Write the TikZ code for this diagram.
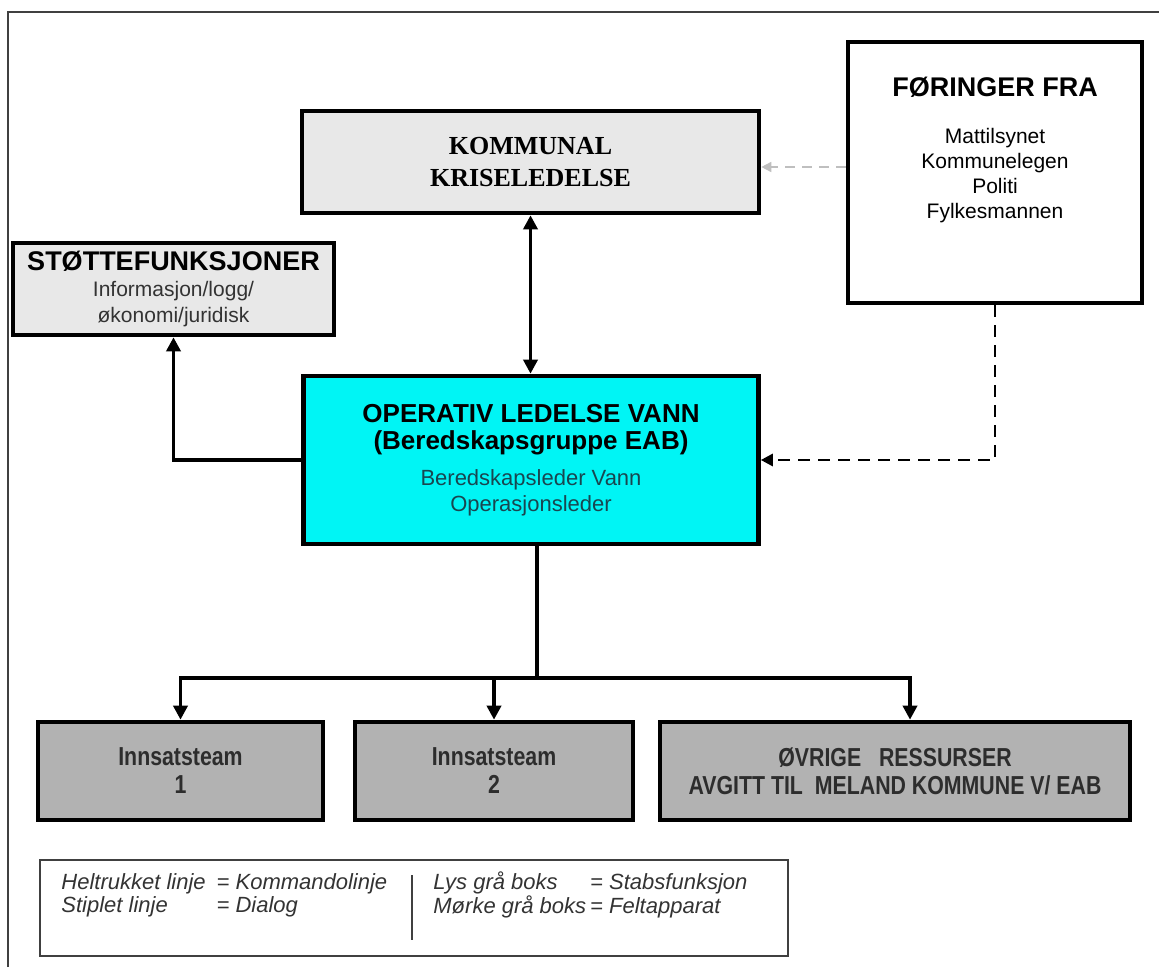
\documentclass[tikz,border=0pt]{standalone}
\usepackage{fontspec}
\setmainfont{Liberation Sans}
\newfontfamily\timesfont{Liberation Serif}
\newfontfamily\narrowfont[FakeStretch=0.82]{Liberation Sans}
\usetikzlibrary{positioning}
\usetikzlibrary{positioning, arrows.meta}
\definecolor{lysgraa}{RGB}{232,232,232}
\definecolor{morkgraa}{RGB}{178,178,178}
\definecolor{vanncyan}{RGB}{0,245,245}
\definecolor{tekstgraa}{RGB}{45,45,45}
\definecolor{tekstteal}{RGB}{25,70,80}

\begin{document}
\begin{tikzpicture}[x=0.5pt, y=-0.5pt]
        % Define styles for boxes and lines
        \tikzset{
            boks/.style={draw, line width=2.3pt, align=center, inner sep=0pt},
            lysboks/.style={boks, fill=lysgraa},
            morkboks/.style={boks, fill=morkgraa, minimum height=49pt, text=tekstgraa,
                font=\narrowfont\fontsize{13}{14}\selectfont\bfseries},
            kommando/.style={line width=1.8pt, -{Triangle[length=7pt, width=7pt]}},
            kommandobegge/.style={line width=1.8pt, {Triangle[length=7pt, width=7pt]}-{Triangle[length=7pt, width=7pt]}},
            dialog/.style={line width=1.4pt, dash pattern=on 6pt off 4pt, -{Triangle[length=6pt, width=6pt]}},
            dialoglys/.style={line width=0.8pt, gray!50, dash pattern=on 5pt off 3.5pt, -{Triangle[length=5pt, width=5pt]}}
        }
        \useasboundingbox (0,0) rectangle (1159,967);
        % Frame
        \draw[line width=0.8pt, black!75] (8,967) -- (8,12) -- (1159,12);
        % Draw boxes
        \node[lysboks, minimum width=228.5pt, minimum height=51pt,
            font=\timesfont\fontsize{13}{16}\selectfont\bfseries] (krise) at (530.5,162) {KOMMUNAL\\KRISELEDELSE};

        \node[boks, fill=white, minimum width=147pt, minimum height=130.5pt] (foringer) at (995,172.5) {};
        \node[below=18.5pt of foringer.north, align=center, inner sep=0pt,
            font=\fontsize{10.5}{12.5}\selectfont] (foringertekst) {
            {\fontsize{13.5}{16}\selectfont\bfseries FØRINGER FRA}\\[11pt]
            Mattilsynet\\
            Kommunelegen\\
            Politi\\
            Fylkesmannen
        };

        \node[lysboks, minimum width=160.5pt, minimum height=46pt,
            font=\fontsize{10.5}{13}\selectfont] (stotte) at (173.5,289) {
            {\fontsize{13.5}{16}\selectfont\bfseries STØTTEFUNKSJONER}\\
            {\color{black!80}Informasjon/logg/}\\
            {\color{black!80}økonomi/juridisk}
        };

        \node[boks, fill=vanncyan, minimum width=227.5pt, minimum height=84pt,
            font=\fontsize{11}{13}\selectfont] (operativ) at (531,460) {
            {\fontsize{13}{16}\selectfont\bfseries OPERATIV LEDELSE VANN}\\[0.5pt]
            {\fontsize{13}{16}\selectfont\bfseries (Beredskapsgruppe EAB)}\\[5pt]
            {\color{tekstteal}Beredskapsleder Vann}\\
            {\color{tekstteal}Operasjonsleder}
        };

        \node[morkboks, minimum width=142.5pt] (team1) at (180.5,771) {Innsatsteam\\1};
        \node[morkboks, minimum width=139pt] (team2) at (494,771) {Innsatsteam\\2};
        \node[morkboks, minimum width=235pt] (ovrige) at (895,771) {ØVRIGE\ \ \ RESSURSER\\AVGITT TIL\ \ MELAND KOMMUNE V/ EAB};

        % Legend
        \node[draw, line width=0.8pt, black!75, minimum width=374pt, minimum height=48pt] (legend) at (414,908) {};
        \node[anchor=west, inner sep=0pt, text=black!80,
            font=\itshape\fontsize{11}{11.5}\selectfont] (legendvenstre) at (61,896) {
            \begin{tabular}{@{}l@{\hspace{5.5pt}}l@{}}
                Heltrukket linje & = Kommandolinje \\
                Stiplet linje & = Dialog
            \end{tabular}
        };
        \node[anchor=west, inner sep=0pt, text=black!80,
            font=\itshape\fontsize{11}{11.5}\selectfont] (legendhoyre) at (433,896) {
            \begin{tabular}{@{}l@{\hspace{2pt}}l@{}}
                Lys grå boks & = Stabsfunksjon \\
                Mørke grå boks & = Feltapparat
            \end{tabular}
        };
        \draw[line width=0.8pt, black!75] (412,875) -- (412,940);

        % Draw arrows
        \draw[kommandobegge] (krise.south) -- (krise.south |- operativ.north);
        \draw[kommando] (operativ.west) -| (stotte.south);
        \draw[dialog] (foringer.south) |- (operativ.east);
        \draw[dialoglys] ([yshift=2.75pt]foringer.west) -- ([yshift=-2.5pt]krise.east);
        % Additional arrows
        \coordinate (fordeling) at (537,678);
        \draw[line width=1.8pt] (fordeling |- operativ.south) -- (fordeling);
        \draw[kommando] (fordeling) -| (team1.north);
        \draw[kommando] (fordeling) -| (team2.north);
        \draw[kommando] (fordeling) -| ([xshift=7.5pt]ovrige.north);
    \end{tikzpicture}
\end{document}
